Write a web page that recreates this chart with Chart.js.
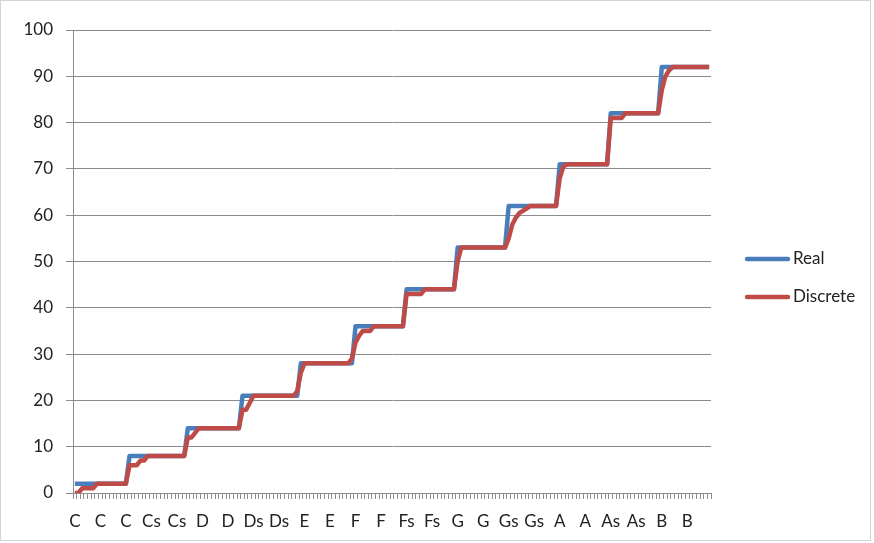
<!DOCTYPE html>
<html>
<head>
<meta charset="utf-8">
<title>Real vs Discrete</title>
<script src="https://cdn.jsdelivr.net/npm/chart.js@4"></script>
<style>
  body { margin: 0; background: #fff; }
  canvas { display: block; }
</style>
</head>
<body>
<canvas id="pitchChart" width="874" height="543"></canvas>
<script>
// one note name per sample; the axis only prints every 7th one
const noteLabels = [
  'C','C','C','C','C','C','C',
  'C','C','C','C','C','C','C',
  'C','C','C','C','C','C','C',
  'Cs','Cs','Cs','Cs','Cs','Cs','Cs',
  'Cs','Cs','Cs','Cs','Cs','Cs','Cs',
  'D','D','D','D','D','D','D',
  'D','D','D','D','D','D','D',
  'Ds','Ds','Ds','Ds','Ds','Ds','Ds',
  'Ds','Ds','Ds','Ds','Ds','Ds','Ds',
  'E','E','E','E','E','E','E',
  'E','E','E','E','E','E','E',
  'F','F','F','F','F','F','F',
  'F','F','F','F','F','F','F',
  'Fs','Fs','Fs','Fs','Fs','Fs','Fs',
  'Fs','Fs','Fs','Fs','Fs','Fs','Fs',
  'G','G','G','G','G','G','G',
  'G','G','G','G','G','G','G',
  'Gs','Gs','Gs','Gs','Gs','Gs','Gs',
  'Gs','Gs','Gs','Gs','Gs','Gs','Gs',
  'A','A','A','A','A','A','A',
  'A','A','A','A','A','A','A',
  'As','As','As','As','As','As','As',
  'As','As','As','As','As','As','As',
  'B','B','B','B','B','B','B',
  'B','B','B','B','B','B','B'
];

const realValues = [
  2, 2, 2, 2, 2, 2, 2,
  2, 2, 2, 2, 2, 2, 2,
  2, 8, 8, 8, 8, 8, 8,
  8, 8, 8, 8, 8, 8, 8,
  8, 8, 8, 14, 14, 14, 14,
  14, 14, 14, 14, 14, 14, 14,
  14, 14, 14, 14, 21, 21, 21,
  21, 21, 21, 21, 21, 21, 21,
  21, 21, 21, 21, 21, 21, 28,
  28, 28, 28, 28, 28, 28, 28,
  28, 28, 28, 28, 28, 28, 28,
  36, 36, 36, 36, 36, 36, 36,
  36, 36, 36, 36, 36, 36, 36,
  44, 44, 44, 44, 44, 44, 44,
  44, 44, 44, 44, 44, 44, 44,
  53, 53, 53, 53, 53, 53, 53,
  53, 53, 53, 53, 53, 53, 53,
  62, 62, 62, 62, 62, 62, 62,
  62, 62, 62, 62, 62, 62, 62,
  71, 71, 71, 71, 71, 71, 71,
  71, 71, 71, 71, 71, 71, 71,
  82, 82, 82, 82, 82, 82, 82,
  82, 82, 82, 82, 82, 82, 82,
  92, 92, 92, 92, 92, 92, 92,
  92, 92, 92, 92, 92, 92, 92
];

const discreteValues = [
  0, 0, 1, 1, 1, 1, 2,
  2, 2, 2, 2, 2, 2, 2,
  2, 6, 6, 6, 7, 7, 8,
  8, 8, 8, 8, 8, 8, 8,
  8, 8, 8, 12, 12, 13, 14,
  14, 14, 14, 14, 14, 14, 14,
  14, 14, 14, 14, 18, 18, 19.5,
  21, 21, 21, 21, 21, 21, 21,
  21, 21, 21, 21, 21, 22, 26,
  28, 28, 28, 28, 28, 28, 28,
  28, 28, 28, 28, 28, 28, 29,
  32.5, 34, 35, 35, 35, 36, 36,
  36, 36, 36, 36, 36, 36, 36,
  43, 43, 43, 43, 43, 44, 44,
  44, 44, 44, 44, 44, 44, 44,
  50, 53, 53, 53, 53, 53, 53,
  53, 53, 53, 53, 53, 53, 53,
  55, 58, 59.5, 60.5, 61, 61.5, 62,
  62, 62, 62, 62, 62, 62, 62,
  68, 70.5, 71, 71, 71, 71, 71,
  71, 71, 71, 71, 71, 71, 71,
  81, 81, 81, 81, 82, 82, 82,
  82, 82, 82, 82, 82, 82, 82,
  87, 90, 91.3, 92, 92, 92, 92,
  92, 92, 92, 92, 92, 92, 92
];

const labelEvery = 7;
const textColor = '#222222';
const gridColor = '#8c8c8c';
const fontFamily = 'Lato, "Open Sans", sans-serif';

// white background and the thin frame around the chart
const frame = {
  id: 'frame',
  beforeDraw(chart) {
    const ctx = chart.ctx;
    ctx.save();
    ctx.fillStyle = '#ffffff';
    ctx.fillRect(0, 0, chart.width, chart.height);
    ctx.strokeStyle = '#d4d4d4';
    ctx.lineWidth = 1;
    ctx.strokeRect(0.5, 0.5, 870, 540);
    ctx.restore();
  }
};

// legend on the right, drawn by hand so it can sit apart from the plot
const sideLegend = {
  id: 'sideLegend',
  afterDraw(chart) {
    const ctx = chart.ctx;
    const x = 745, lineLen = 45;
    const rows = [259, 297];
    ctx.save();
    ctx.font = '17px ' + fontFamily;
    ctx.textBaseline = 'middle';
    chart.data.datasets.forEach((ds, i) => {
      const y = rows[i];
      ctx.strokeStyle = ds.borderColor;
      ctx.lineWidth = 4.5;
      ctx.lineCap = 'round';
      ctx.beginPath();
      ctx.moveTo(x + 2, y);
      ctx.lineTo(x + lineLen - 2, y);
      ctx.stroke();
      ctx.fillStyle = textColor;
      ctx.fillText(ds.label, x + lineLen + 3, y);
    });
    ctx.restore();
  }
};

const ctx = document.getElementById('pitchChart').getContext('2d');
const pitchChart = new Chart(ctx, {
  type: 'line',
  data: {
    labels: noteLabels,
    datasets: [
      {
        label: 'Real',
        data: realValues,
        borderColor: '#4a7ebb',
        borderWidth: 4.5,
        pointRadius: 0,
        tension: 0,
        borderJoinStyle: 'round',
        order: 1
      },
      {
        label: 'Discrete',
        data: discreteValues,
        borderColor: '#be4b48',
        borderWidth: 4.5,
        pointRadius: 0,
        tension: 0,
        borderJoinStyle: 'round',
        order: 0
      }
    ]
  },
  options: {
    responsive: false,
    animation: false,
    layout: {
      padding: { left: 0, right: 163, top: 30, bottom: 0 }
    },
    plugins: {
      legend: { display: false },
      tooltip: { enabled: false }
    },
    scales: {
      x: {
        offset: true,
        afterFit: scale => { scale.height = 50; },
        grid: {
          offset: true,
          drawOnChartArea: false,
          drawTicks: true,
          tickLength: 6,
          color: gridColor
        },
        border: { color: gridColor },
        ticks: {
          autoSkip: false,
          maxRotation: 0,
          minRotation: 0,
          padding: 12,
          color: textColor,
          font: { family: fontFamily, size: 17 },
          callback: (value, index) => index % labelEvery === 0 ? noteLabels[index] : ''
        }
      },
      y: {
        min: 0,
        max: 100,
        afterFit: scale => { scale.width = 73; },
        grid: {
          color: gridColor,
          tickLength: 7
        },
        border: { color: gridColor },
        ticks: {
          stepSize: 10,
          padding: 13,
          color: textColor,
          font: { family: fontFamily, size: 17 }
        }
      }
    }
  },
  plugins: [frame, sideLegend]
});
</script>
</body>
</html>
